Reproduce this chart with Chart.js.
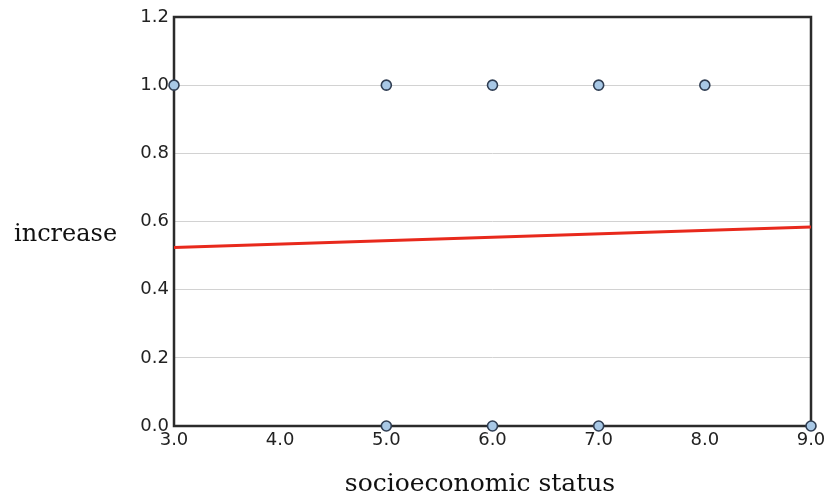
<!DOCTYPE html>
<html>
<head>
<meta charset="utf-8">
<script src="https://cdn.jsdelivr.net/npm/chart.js@4"></script>
<style>
  html, body { margin: 0; padding: 0; background: #fff; }
  #wrap { width: 833px; height: 497px; }
</style>
</head>
<body>
<div id="wrap"><canvas id="chart" width="833" height="497"></canvas></div>
<script>
// observed points (socioeconomic status vs increase)
const statusValues = [3, 5, 6, 7, 8, 5, 6, 7, 9];
const increaseValues = [1, 1, 1, 1, 1, 0, 0, 0, 0];

// fitted line end points
const fitX = [3, 9];
const fitY = [0.524, 0.584];

const xTitle = 'socioeconomic status';
const yTitle = 'increase';

// draw frame and the horizontal y title
const framePlugin = {
    id: 'frame',
    beforeDatasetsDraw(chart) {
        const a = chart.chartArea;
        const ctx = chart.ctx;
        ctx.save();
        ctx.strokeStyle = '#2b2b2b';
        ctx.lineWidth = 2.5;
        ctx.strokeRect(a.left, a.top, a.right - a.left, a.bottom - a.top);
        ctx.restore();
    },
    afterDraw(chart) {
        const ctx = chart.ctx;
        ctx.save();
        ctx.fillStyle = '#111';
        ctx.font = '24px "DejaVu Serif"';
        ctx.textBaseline = 'middle';
        ctx.textAlign = 'left';
        ctx.fillText(yTitle, 14, 235);
        ctx.textAlign = 'center';
        ctx.font = '25px "DejaVu Serif"';
        ctx.fillText(xTitle, 480, 484);
        ctx.restore();
    }
};

const ctx = document.getElementById('chart').getContext('2d');
const chart = new Chart(ctx, {
    type: 'scatter',
    data: {
        datasets: [
            {
                data: statusValues.map((x, i) => ({ x: x, y: increaseValues[i] })),
                pointRadius: 5,
                pointHoverRadius: 5,
                pointBackgroundColor: '#a8c8e6',
                pointBorderColor: '#2f3d52',
                pointBorderWidth: 1.6,
                clip: false,
                order: 1
            },
            {
                data: fitX.map((x, i) => ({ x: x, y: fitY[i] })),
                showLine: true,
                borderColor: '#e8291c',
                borderWidth: 3,
                pointRadius: 0,
                order: 2
            }
        ]
    },
    options: {
        responsive: false,
        animation: false,
        layout: { padding: { left: 0, right: 22, top: 17, bottom: 0 } },
        plugins: {
            legend: { display: false },
            tooltip: { enabled: false }
        },
        scales: {
            x: {
                type: 'linear',
                min: 3,
                max: 9,
                afterFit(scale) { scale.height = 71; },
                grid: { display: false, drawTicks: false },
                border: { display: false },
                ticks: {
                    stepSize: 1,
                    padding: 4,
                    color: '#222',
                    font: { family: '"DejaVu Sans"', size: 18 },
                    callback: v => v.toFixed(1)
                }
            },
            y: {
                min: 0,
                max: 1.2,
                afterFit(scale) { scale.width = 174; },
                grid: { color: '#d2d2d2', lineWidth: 1, drawTicks: false },
                border: { display: false },
                ticks: {
                    stepSize: 0.2,
                    padding: 5,
                    color: '#222',
                    font: { family: '"DejaVu Sans"', size: 18 },
                    callback: v => v.toFixed(1)
                }
            }
        }
    },
    plugins: [framePlugin]
});
</script>
</body>
</html>
